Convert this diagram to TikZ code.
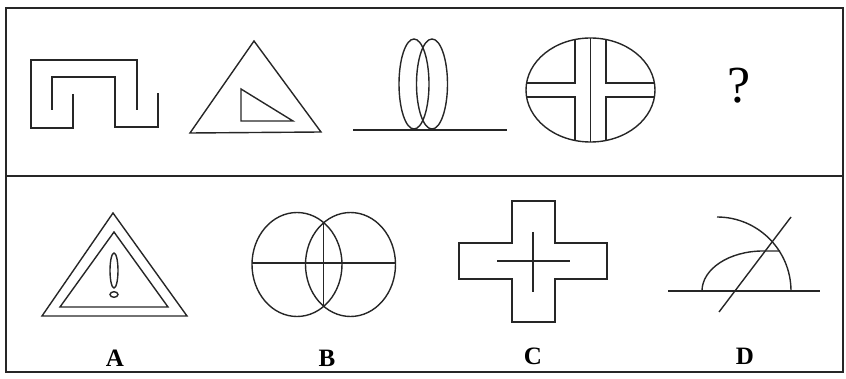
\documentclass[tikz,border=0pt]{standalone}
\usepackage{fontspec}
\setmainfont{Liberation Serif}
\usetikzlibrary{positioning}

\begin{document}
\begin{tikzpicture}[
        x=1pt, y=-1pt,
        frame/.style={draw=black!85, line width=1.6pt},
        fig/.style={draw=black!85, line width=1.4pt, line join=miter},
        optlabel/.style={font=\fontsize{25}{25}\selectfont\bfseries, inner sep=0pt},
        quest/.style={font=\fontsize{52}{52}\selectfont, inner sep=0pt}
    ]
        \useasboundingbox (0,0) rectangle (846,379);

        % Frame and divider
        \draw[frame] (6,8) rectangle (843,372);
        \draw[frame] (6,176) -- (843,176);

        % Row 1, figure 1: meander
        \draw[fig] (52,110) -- (52,77) -- (115,77) -- (115,127) -- (158,127) -- (158,93);
        \draw[fig] (73,94) -- (73,128) -- (31,128) -- (31,60) -- (137,60) -- (137,110);

        % Row 1, figure 2: triangle in triangle
        \draw[fig] (254,41) -- (190,133) -- (321,132) -- cycle;
        \draw[fig] (241,89) -- (241,121) -- (293,121) -- cycle;

        % Row 1, figure 3: two rings on a line
        \draw[fig] (353,130) -- (507,130);
        \draw[fig] (414,84) ellipse [x radius=15, y radius=45];
        \draw[fig] (432,84) ellipse [x radius=15.5, y radius=45];

        % Row 1, figure 4: ellipse with split cross
        \draw[fig] (590.5,90) ellipse [x radius=64.5, y radius=52];
        \begin{scope}
            \clip (590.5,90) ellipse [x radius=64.5, y radius=52];
            \draw[fig] (520,83) -- (575,83) -- (575,30);
            \draw[fig] (520,97) -- (575,97) -- (575,150);
            \draw[fig] (660,83) -- (606,83) -- (606,30);
            \draw[fig] (660,97) -- (606,97) -- (606,150);
            \draw[fig] (590.5,30) -- (590.5,150);
        \end{scope}

        % Row 1, figure 5
        \node[quest] (q) at (739,86) {?};

        % Option A: warning triangle
        \draw[fig] (113,213) -- (42,316) -- (187,316) -- cycle;
        \draw[fig] (114,232) -- (60,307) -- (168,307) -- cycle;
        \draw[fig] (114,270.5) ellipse [x radius=4, y radius=17.5];
        \draw[fig] (114,294.5) ellipse [x radius=4, y radius=2.8];

        % Option B: two overlapping circles
        \draw[fig] (297,264.5) ellipse [x radius=45, y radius=52];
        \draw[fig] (350.5,264.5) ellipse [x radius=45, y radius=52];
        \draw[fig] (252,263) -- (395.5,263);
        \draw[fig] (323.7,222.7) -- (323.7,306.3);

        % Option C: cross
        \draw[fig] (512,201) -- (555,201) -- (555,243) -- (607,243) -- (607,279)
            -- (555,279) -- (555,322) -- (512,322) -- (512,279) -- (459,279)
            -- (459,243) -- (512,243) -- cycle;
        \draw[fig] (497,261) -- (570,261);
        \draw[fig] (533,232) -- (533,292);

        % Option D: arcs and lines
        \draw[fig] (668,291) -- (820,291);
        \draw[fig] (717,217) arc [start angle=270, end angle=360, radius=74];
        \draw[fig] (702,291) arc [start angle=180, end angle=270, x radius=61, y radius=40] -- (780,251);
        \draw[fig] (719,312) -- (791,217);

        % Option labels
        \node[optlabel] (la) at (115,358) {A};
        \node[optlabel] (lb) at (327,358) {B};
        \node[optlabel] (lc) at (533,356) {C};
        \node[optlabel] (ld) at (745,356) {D};
    \end{tikzpicture}
\end{document}
